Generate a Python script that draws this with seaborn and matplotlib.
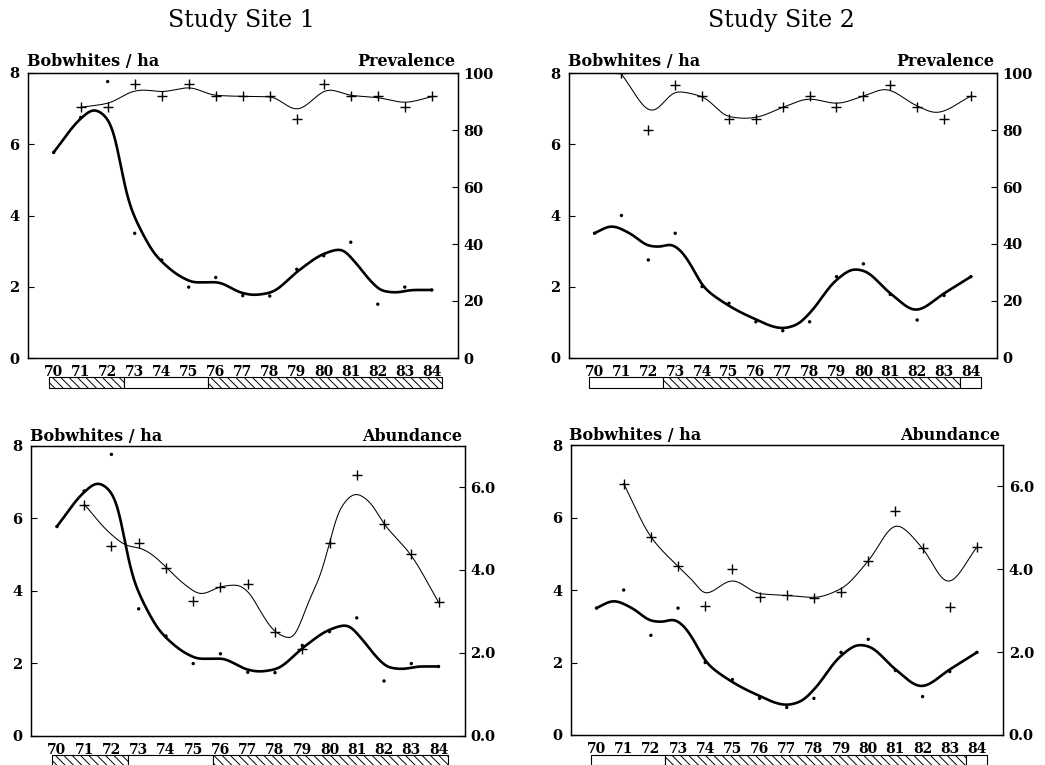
import numpy as np
import pandas as pd
import matplotlib
matplotlib.use("Agg")
import matplotlib.pyplot as plt
import seaborn as sns

# ---------------- data ----------------
years = list(range(70, 85))
year_labels = [str(y) for y in years]

# Bobwhites / ha (observed points, left axis)
site1_density = [5.77, 6.75, 7.76, 3.50, 2.75, 1.99, 2.26, 1.75, 1.74, 2.49, 2.87, 3.25, 1.51, 1.99, 1.91]
site2_density = [3.50, 4.00, 2.75, 3.50, 2.00, 1.53, 1.01, 0.76, 1.01, 2.28, 2.64, 1.78, 1.06, 1.75, 2.28]

# smoothed density curve
site1_dens_curve_x = [70, 71, 71.49, 71.93, 72.24, 72.42, 72.61, 72.79, 73.04, 73.35, 73.72, 74.21, 74.71,
                      75.26, 76, 77, 77.4, 78, 79.08, 79.99, 80.61, 81.22, 81.71, 82.19, 82.68, 83.3, 84]
site1_dens_curve_y = [5.77, 6.72, 6.97, 6.78, 6.31, 5.65, 4.91, 4.35, 3.88, 3.41, 2.94, 2.56, 2.28,
                      2.12, 2.13, 1.82, 1.77, 1.83, 2.46, 2.92, 3.05, 2.64, 2.18, 1.88, 1.84, 1.91, 1.91]
site2_dens_curve_x = [70, 70.63, 71.31, 72.06, 72.43, 72.81, 73.18, 73.55, 74.05, 74.67, 75.79, 77, 77.5, 78,
                      79, 79.67, 80, 81, 81.95, 83, 84]
site2_dens_curve_y = [3.50, 3.70, 3.50, 3.14, 3.12, 3.19, 3.03, 2.65, 2.00, 1.62, 1.15, 0.83, 0.92, 1.25,
                      2.19, 2.49, 2.45, 1.81, 1.34, 1.81, 2.28]

# Prevalence (%), right axis, 1971-1984
prev_years = list(range(71, 85))
site1_prev = [88, 88, 96, 92, 96, 92, 92, 92, 84, 96, 92, 92, 88, 92]
site2_prev = [100, 80, 96, 92, 84, 84, 88, 92, 88, 92, 96, 88, 84, 92]
site1_prev_curve_x = [71, 72, 73, 73.3, 74, 75, 76, 77, 78, 79, 80.2, 81, 82, 83, 84]
site1_prev_curve_y = [87.96, 89.36, 93.68, 94.04, 93.45, 94.85, 92.16, 91.81, 91.70, 87.25, 94.10, 92.16, 91.35,
                      89.70, 91.70]
site2_prev_curve_x = [71, 72.14, 73.07, 74, 75, 75.6, 76, 77, 78, 79, 80, 80.8, 82, 82.7, 84]
site2_prev_curve_y = [99.75, 86.74, 93.54, 91.78, 84.75, 84.17, 84.5, 88.03, 90.96, 89.44, 92.0, 94.36, 88.5,
                      86.16, 92.0]

# Abundance, right axis, 1971-1984
abund_years = list(range(71, 85))
site1_abund = [5.56, 4.59, 4.66, 4.06, 3.25, 3.60, 3.66, 2.50, 2.09, 4.66, 6.30, 5.11, 4.39, 3.22]
site2_abund = [6.07, 4.78, 4.07, 3.11, 4.00, 3.32, 3.38, 3.30, 3.45, 4.21, 5.41, 4.52, 3.08, 4.54]
site1_abund_curve_x = [71, 71.94, 72.61, 73.04, 73.41, 74.02, 74.63, 75.3, 76.03, 76.6, 77.07, 77.43, 78.04,
                       78.59, 79.26, 79.69, 80.0, 80.36, 80.97, 81.46, 82.0, 82.99, 84]
site1_abund_curve_y = [5.59, 4.89, 4.58, 4.53, 4.41, 4.06, 3.68, 3.42, 3.60, 3.64, 3.44, 3.04, 2.49,
                       2.35, 3.28, 3.92, 4.65, 5.45, 5.84, 5.65, 5.11, 4.36, 3.22]
site2_abund_curve_x = [71, 72, 73, 73.54, 74, 75, 76, 77, 78, 79, 80, 81.04, 81.96, 82.94, 84]
site2_abund_curve_y = [6.07, 4.78, 4.07, 3.73, 3.41, 3.73, 3.41, 3.37, 3.32, 3.53, 4.20, 5.06, 4.54, 3.69, 4.54]

# period strips below the axes (start, end, hatched)
site1_strip_start = [69.81, 72.60, 75.73]
site1_strip_end = [72.60, 75.73, 84.36]
site1_strip_hatch = [True, False, True]
site2_strip_start = [69.80, 72.53, 83.60]
site2_strip_end = [72.53, 83.60, 84.37]
site2_strip_hatch = [False, True, False]

left_ticks = [0, 2, 4, 6, 8]
prev_ticks = [0, 20, 40, 60, 80, 100]
abund_ticks = [0, 2, 4, 6]
abund_tick_labels = ["0.0", "2.0", "4.0", "6.0"]


# ---------------- helpers ----------------
def pchip(xk, yk, xs):
    xk = np.asarray(xk, float)
    yk = np.asarray(yk, float)
    h = np.diff(xk)
    d = np.diff(yk) / h
    n = len(xk)
    m = np.zeros(n)
    for k in range(1, n - 1):
        if d[k - 1] * d[k] > 0:
            w1 = 2 * h[k] + h[k - 1]
            w2 = h[k] + 2 * h[k - 1]
            m[k] = (w1 + w2) / (w1 / d[k - 1] + w2 / d[k])
    m[0] = d[0]
    m[-1] = d[-1]
    idx = np.clip(np.searchsorted(xk, xs) - 1, 0, n - 2)
    t = (xs - xk[idx]) / h[idx]
    h00 = 2 * t**3 - 3 * t**2 + 1
    h10 = t**3 - 2 * t**2 + t
    h01 = -2 * t**3 + 3 * t**2
    h11 = t**3 - t**2
    return (h00 * yk[idx] + h10 * h[idx] * m[idx] + h01 * yk[idx + 1] + h11 * h[idx] * m[idx + 1])


def smooth_frame(kx, ky, sigma=0.13):
    n = 900
    xs = np.linspace(kx[0], kx[-1], n)
    ys = pchip(kx, ky, xs)
    dx = xs[1] - xs[0]
    s = sigma / dx
    half = int(4 * s)
    kern = np.exp(-0.5 * (np.arange(-half, half + 1) / s) ** 2)
    kern /= kern.sum()
    # linear extension at both ends so the ends keep their slope
    sl0 = (ys[5] - ys[0]) / 5
    sl1 = (ys[-1] - ys[-6]) / 5
    pre = ys[0] - sl0 * np.arange(half, 0, -1)
    post = ys[-1] + sl1 * np.arange(1, half + 1)
    ext = np.concatenate([pre, ys, post])
    sm = np.convolve(ext, kern, mode="same")[half:half + n]
    return pd.DataFrame({"x": xs, "y": sm})


sns.set_theme(style="white")
plt.rcParams["font.family"] = ["DejaVu Serif"]
plt.rcParams["hatch.linewidth"] = 0.7
for k in ["text.color", "axes.labelcolor", "xtick.color", "ytick.color", "axes.edgecolor"]:
    plt.rcParams[k] = "black"

XLIM = (69.05, 84.97)

fig = plt.figure(figsize=(10.45, 7.65), dpi=100)


def style_spines(a):
    for s in a.spines.values():
        s.set_color("black")
        s.set_linewidth(0.9)


def panel(rect, strip_rect, dens, dkx, dky, sec_years, sec_vals, skx, sky,
          rlim, rticks, rlabels, rtitle, s_start, s_end, s_hatch, label_off):
    ax = fig.add_axes(rect)
    ax.set_facecolor("none")
    df_pts = pd.DataFrame({"x": years, "y": dens})
    sns.lineplot(data=smooth_frame(dkx, dky), x="x", y="y", ax=ax, color="black",
                 linewidth=1.9, estimator=None, sort=False)
    sns.scatterplot(data=df_pts, x="x", y="y", ax=ax, color="black", s=6,
                    edgecolor="none", linewidth=0)
    ax.set_xlim(*XLIM)
    ax.set_ylim(0, 8)
    ax.set_xticks(years)
    ax.set_xticklabels(year_labels)
    ax.set_yticks(left_ticks)
    ax.set_yticklabels([str(t) for t in left_ticks])
    ax.set_xlabel("")
    ax.set_ylabel("")
    ax.tick_params(axis="x", length=0, pad=5, labelsize=10)
    ax.tick_params(axis="y", direction="in", length=4, width=0.8, pad=6, labelsize=10.5)
    style_spines(ax)

    ax2 = ax.twinx()
    df_sec = pd.DataFrame({"x": sec_years, "y": sec_vals})
    sns.lineplot(data=smooth_frame(skx, sky), x="x", y="y", ax=ax2, color="black",
                 linewidth=0.75, estimator=None, sort=False)
    sns.scatterplot(data=df_sec, x="x", y="y", ax=ax2, color="black", marker="+",
                    s=55, linewidth=1.0)
    ax2.set_ylim(*rlim)
    ax2.set_yticks(rticks)
    ax2.set_yticklabels(rlabels)
    ax2.set_ylabel("")
    ax2.tick_params(axis="y", direction="in", length=4, width=0.8, pad=4, labelsize=10.5)
    ax.set_xlim(*XLIM)
    style_spines(ax2)

    for lbl in ax.get_xticklabels() + ax.get_yticklabels() + ax2.get_yticklabels():
        lbl.set_fontweight("bold")

    ax.annotate("Bobwhites / ha", xy=(0, 1), xycoords="axes fraction",
                xytext=(-1, label_off), textcoords="offset points", ha="left",
                va="baseline", fontsize=11.5, fontweight="bold")
    ax.annotate(rtitle, xy=(1, 1), xycoords="axes fraction",
                xytext=(-2, label_off), textcoords="offset points", ha="right",
                va="baseline", fontsize=11.5, fontweight="bold")

    sax = fig.add_axes(strip_rect)
    sax.set_xlim(*XLIM)
    sax.set_ylim(0, 1)
    sax.axis("off")
    for a, b, hch in zip(s_start, s_end, s_hatch):
        sax.barh(0.5, b - a, left=a, height=1.0, color="white", edgecolor="black",
                 linewidth=0.8, hatch="\\\\\\\\" if hch else None, clip_on=False)
    return ax


panel([28 / 1045, 1 - 358 / 765, 430 / 1045, 285 / 765],
      [28 / 1045, 1 - 388 / 765, 430 / 1045, 11 / 765],
      site1_density, site1_dens_curve_x, site1_dens_curve_y,
      prev_years, site1_prev, site1_prev_curve_x, site1_prev_curve_y,
      (0, 100), prev_ticks, [str(t) for t in prev_ticks], "Prevalence",
      site1_strip_start, site1_strip_end, site1_strip_hatch, 5)

panel([569 / 1045, 1 - 357.7 / 765, 428 / 1045, 284.4 / 765],
      [569 / 1045, 1 - 388.3 / 765, 428 / 1045, 11.6 / 765],
      site2_density, site2_dens_curve_x, site2_dens_curve_y,
      prev_years, site2_prev, site2_prev_curve_x, site2_prev_curve_y,
      (0, 100), prev_ticks, [str(t) for t in prev_ticks], "Prevalence",
      site2_strip_start, site2_strip_end, site2_strip_hatch, 5)

panel([31 / 1045, 1 - 735.7 / 765, 434 / 1045, 290 / 765],
      [31 / 1045, 1 - 767 / 765, 434 / 1045, 12 / 765],
      site1_density, site1_dens_curve_x, site1_dens_curve_y,
      abund_years, site1_abund, site1_abund_curve_x, site1_abund_curve_y,
      (0, 7), abund_ticks, abund_tick_labels, "Abundance",
      site1_strip_start, site1_strip_end, site1_strip_hatch, 3.5)

panel([570.7 / 1045, 1 - 735 / 765, 432.6 / 1045, 290 / 765],
      [570.7 / 1045, 1 - 765 / 765, 432.6 / 1045, 10 / 765],
      site2_density, site2_dens_curve_x, site2_dens_curve_y,
      abund_years, site2_abund, site2_abund_curve_x, site2_abund_curve_y,
      (0, 7), abund_ticks, abund_tick_labels, "Abundance",
      site2_strip_start, site2_strip_end, site2_strip_hatch, 3.5)

fig.text(241 / 1045, 1 - 20 / 765, "Study Site 1", ha="center", va="center",
         fontsize=17, fontweight="normal")
fig.text(781 / 1045, 1 - 20 / 765, "Study Site 2", ha="center", va="center",
         fontsize=17, fontweight="normal")

fig.savefig("out.png", dpi=100, facecolor="white")
